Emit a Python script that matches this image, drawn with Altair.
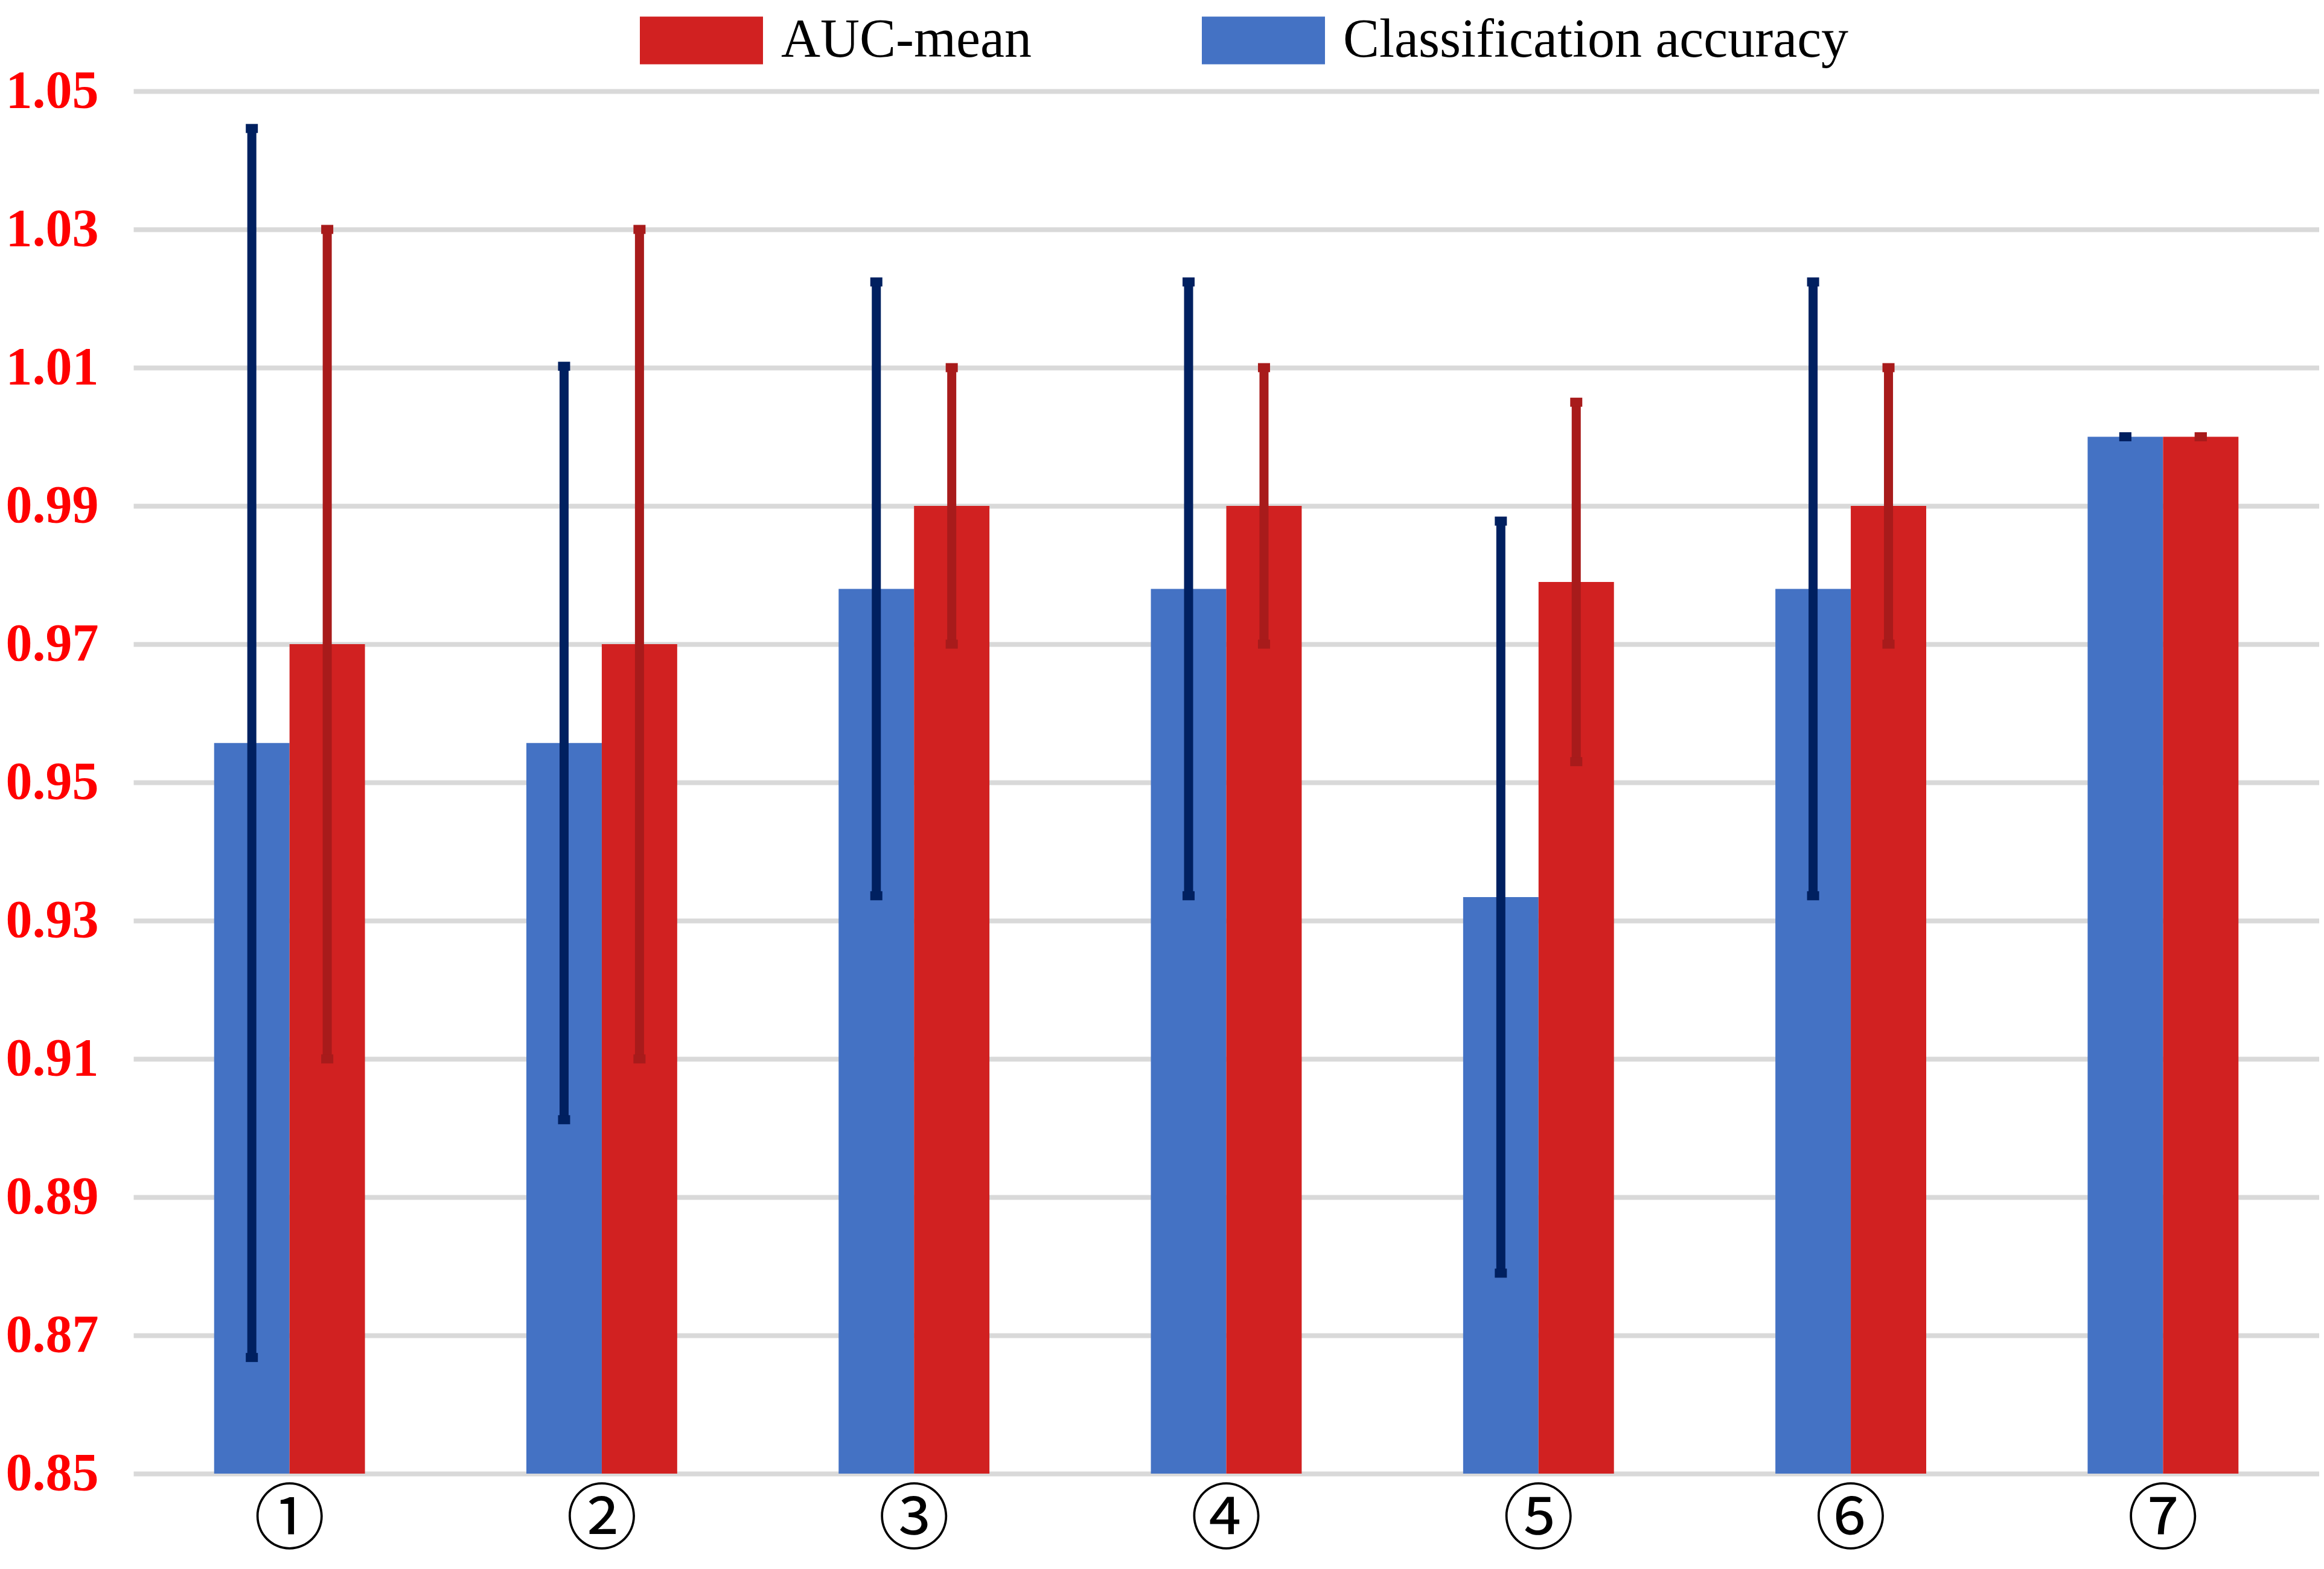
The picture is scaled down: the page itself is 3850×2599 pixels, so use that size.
import altair as alt
import pandas as pd

models = ["①", "②", "③", "④", "⑤", "⑥", "⑦"]
series = ["AUC-mean", "Classification accuracy"]
acc = [0.9557, 0.9557, 0.978, 0.978, 0.9334, 0.978, 1.000]
acc_err = [0.0889, 0.0545, 0.0444, 0.0444, 0.0544, 0.0444, 0.0]
auc = [0.970, 0.970, 0.990, 0.990, 0.979, 0.990, 1.000]
auc_err = [0.060, 0.060, 0.020, 0.020, 0.026, 0.020, 0.0]
y_ticks = [0.85, 0.87, 0.89, 0.91, 0.93, 0.95, 0.97, 0.99, 1.01, 1.03, 1.05]

rows = []
for i, m in enumerate(models):
    rows.append(dict(model=m, series="Classification accuracy", value=acc[i],
                     lo=acc[i] - acc_err[i], hi=acc[i] + acc_err[i]))
    rows.append(dict(model=m, series="AUC-mean", value=auc[i],
                     lo=auc[i] - auc_err[i], hi=auc[i] + auc_err[i]))
df = pd.DataFrame(rows)

x_enc = alt.X(
    "model:N", sort=models,
    scale=alt.Scale(paddingInner=0.517, paddingOuter=0.2585),
    axis=alt.Axis(title=None, labelAngle=0, domain=False, ticks=False, tickSize=0,
                  labelFont="Noto Sans CJK JP", labelFontSize=118, labelColor="black",
                  labelBaseline="alphabetic", labelPadding=114, grid=False),
)
xo_enc = alt.XOffset("series:N", sort=["Classification accuracy", "AUC-mean"])
y_scale = alt.Scale(domain=[0.85, 1.05], zero=False, nice=False)

bars = alt.Chart(df).mark_bar(clip=True).encode(
    x=x_enc,
    xOffset=xo_enc,
    y=alt.Y("value:Q", scale=y_scale,
            axis=alt.Axis(title=None, values=y_ticks, format=".2f", domain=False,
                          ticks=False, tickSize=0, labelFont="Liberation Serif",
                          labelFontWeight="bold", labelFontSize=88, labelColor="#FF0000",
                          labelPadding=58, grid=True, gridColor="#D9D9D9", gridWidth=8)),
    y2=alt.datum(0.85),
    color=alt.Color(
        "series:N",
        scale=alt.Scale(domain=series, range=["#D12121", "#4472C4"]),
        legend=alt.Legend(
            orient="none", legendX=839, legendY=-186, direction="horizontal",
            title=None, symbolType="M-1,-0.387H1V0.387H-1Z", symbolSize=41616,
            symbolStrokeWidth=0, symbolOpacity=1, labelFont="Liberation Serif",
            labelFontSize=90, labelColor="black", labelOffset=30,
            columnPadding=282, labelLimit=3000, padding=0,
        ),
    ),
)

err_color = alt.Color("series:N",
                      scale=alt.Scale(domain=series, range=["#A81B1B", "#002060"]),
                      legend=None)

rules = alt.Chart(df).mark_rule(strokeWidth=15, strokeCap="butt").encode(
    x=alt.X("model:N", sort=models),
    xOffset=xo_enc,
    y=alt.Y("lo:Q", scale=y_scale),
    y2="hi:Q",
    color=err_color,
)

caps_hi = alt.Chart(df).mark_tick(size=20, thickness=15, opacity=1).encode(
    x=alt.X("model:N", sort=models),
    xOffset=xo_enc,
    y=alt.Y("hi:Q", scale=y_scale),
    color=err_color,
)
caps_lo = alt.Chart(df).mark_tick(size=20, thickness=15, opacity=1).encode(
    x=alt.X("model:N", sort=models),
    xOffset=xo_enc,
    y=alt.Y("lo:Q", scale=y_scale),
    color=err_color,
)

errs = alt.layer(rules, caps_hi, caps_lo)

chart = alt.layer(bars, errs).resolve_scale(color="independent").properties(
    width=3621, height=2290,
    autosize=alt.AutoSizeParams(type="none"),
    padding={"left": 213, "top": 143, "right": 0, "bottom": 150},
    background="white",
).configure_view(stroke=None)

chart.save("out.html", embed_options={"renderer": "svg", "actions": False})
